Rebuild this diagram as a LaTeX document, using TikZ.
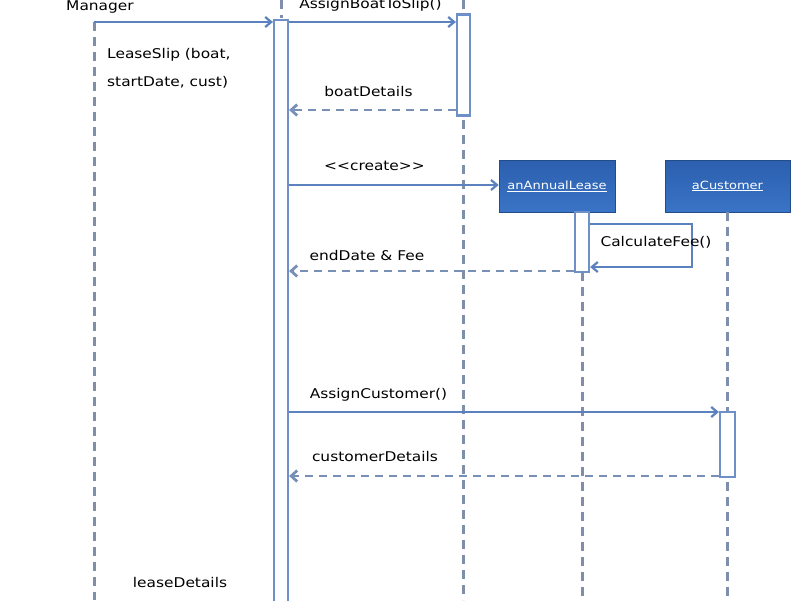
\documentclass[tikz,border=0pt]{standalone}
\usepackage{fontspec}
\usetikzlibrary{arrows.meta}
\newfontfamily\lab[FakeStretch=1.15]{DejaVu Sans}
\definecolor{msgblue}{HTML}{5B82BE}
\definecolor{lifegray}{HTML}{7E8EAB}
\definecolor{retblue}{HTML}{7990B6}
\definecolor{actblue}{HTML}{6F90C6}
\definecolor{boxtop}{HTML}{2C5FAE}
\definecolor{boxbot}{HTML}{3A74C6}
\tikzset{
  lifeline/.style={draw=lifegray, line width=3pt, dash pattern=on 9pt off 6pt},
  msg/.style={draw=msgblue, line width=2.2pt, -{Straight Barb[length=6pt,width=10pt]}},
  ret/.style={draw=retblue, line width=2.8pt, dash pattern=on 8pt off 6pt, -{Straight Barb[length=6pt,width=11pt]}},
  actbox/.style={draw=actblue, line width=2.2pt, fill=white, inner sep=0pt},
  objbox/.style={top color=boxtop, bottom color=boxbot, draw=boxtop!80!black, line width=0.6pt,
    inner sep=0pt, text=white, font=\lab\fontsize{11.3}{13}\selectfont},
  lbl/.style={font=\lab\fontsize{13.4}{15}\selectfont, text=black, inner sep=0pt},
}
\begin{document}
\begin{tikzpicture}[x=1pt,y=-1pt]
\useasboundingbox (0,0) rectangle (800,600);
\fill[white] (0,0) rectangle (800,600);

% lifelines
\coordinate (mgrTop) at (94,22);
\coordinate (mgrBot) at (94,600);
\draw[lifeline] (mgrTop) -- (mgrBot);
\coordinate (o2Top) at (281,0);
\coordinate (o2A) at (281,18);
\draw[lifeline] (o2Top) -- (o2A);
\coordinate (o3Top) at (463,0);
\coordinate (o3Bot) at (463,600);
\draw[lifeline] (o3Top) -- (o3Bot);
\coordinate (leaseBot) at (582,600);
\coordinate (custBot) at (727,600);

% objects
\node[objbox, minimum width=116pt, minimum height=52pt] (lease) at (557,186) {\underline{anAnnualLease}};
\node[objbox, minimum width=125pt, minimum height=52pt] (cust) at (727.5,186) {\underline{aCustomer}};
\draw[lifeline] (lease.south -| leaseBot) -- (leaseBot);
\draw[lifeline] (cust.south -| custBot) -- (custBot);

% activations
\node[actbox, minimum width=14pt, minimum height=590pt] (act2) at (281,315) {};
\node[actbox, minimum width=13pt, minimum height=101pt] (act3) at (463.5,65) {};
\node[actbox, minimum width=14pt, minimum height=60pt] (act4) at (582,242) {};
\node[actbox, minimum width=15pt, minimum height=65pt] (act5) at (727.5,444.5) {};

% manager
\node[lbl, anchor=west] (mgr) at (66,7) {Manager};
\draw[msg] (mgrTop) -- (act2.west |- mgrTop);

% AssignBoatToSlip
\draw[msg] (act2.east |- 0,22) -- (act3.west |- 0,22);
\node[lbl] (l1) at (370.5,5) {AssignBoatToSlip()};
\node[lbl, anchor=west] (l2) at (107,55) {LeaseSlip (boat,};
\node[lbl, anchor=west] (l3) at (107,82) {startDate, cust)};

% boatDetails
\draw[ret] (act3.west |- 0,110) -- (act2.east |- 0,110);
\node[lbl] (l4) at (368.5,92) {boatDetails};

% create
\draw[msg] (act2.east |- 0,185) -- (lease.west |- 0,185);
\node[lbl] (l5) at (374.5,166) {<<create>>};

% CalculateFee
\coordinate (cf1) at (692,224);
\coordinate (cf2) at (692,267);
\draw[msg] (act4.east |- cf1) -- (cf1) -- (cf2) -- (act4.east |- cf2);
\node[lbl] (l6) at (656,242) {CalculateFee()};

% endDate & Fee
\draw[ret] (act4.west |- 0,271) -- (act2.east |- 0,271);
\node[lbl] (l7) at (367,255) {endDate \& Fee};

% AssignCustomer
\draw[msg] (act2.east |- 0,412) -- (act5.west |- 0,412);
\node[lbl] (l8) at (378.5,395) {AssignCustomer()};

% customerDetails
\draw[ret] (act5.west |- 0,476) -- (act2.east |- 0,476);
\node[lbl] (l9) at (375,456) {customerDetails};

% leaseDetails
\node[lbl] (l10) at (180,582) {leaseDetails};
\end{tikzpicture}
\end{document}
